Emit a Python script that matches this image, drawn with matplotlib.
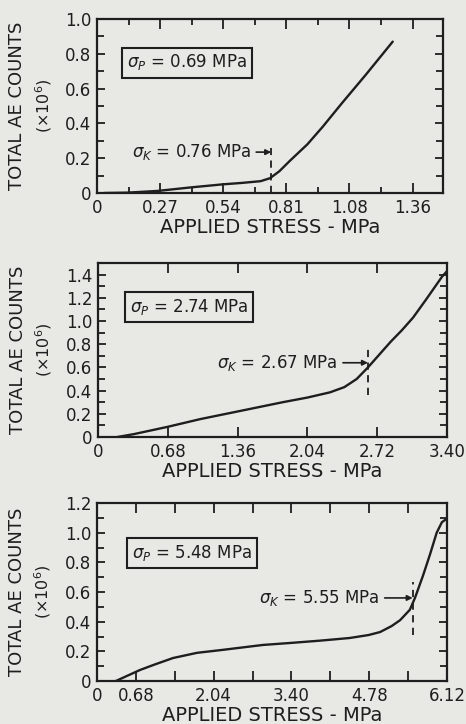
import numpy as np
import matplotlib
matplotlib.use("Agg")
import matplotlib.pyplot as plt
from matplotlib.ticker import FixedLocator, MultipleLocator

# panel 1 (sigma_p = 0.69 MPa)
x1 = [0.03, 0.13, 0.26, 0.40, 0.54, 0.62, 0.70, 0.74, 0.78, 0.825, 0.90, 0.965, 1.05, 1.15, 1.265]
y1 = [0.0, 0.002, 0.012, 0.032, 0.050, 0.058, 0.068, 0.085, 0.125, 0.185, 0.28, 0.38, 0.52, 0.68, 0.87]
# panel 2 (sigma_p = 2.74 MPa)
x2 = [0.19, 0.35, 0.68, 1.00, 1.36, 1.80, 2.04, 2.26, 2.40, 2.52, 2.63, 2.75, 2.85, 2.96, 3.07, 3.20, 3.35, 3.40]
y2 = [0.0, 0.025, 0.088, 0.155, 0.22, 0.30, 0.34, 0.385, 0.43, 0.50, 0.60, 0.72, 0.82, 0.92, 1.03, 1.19, 1.38, 1.43]
# panel 3 (sigma_p = 5.48 MPa)
x3 = [0.33, 0.50, 0.75, 1.00, 1.33, 1.75, 2.20, 2.90, 3.40, 3.90, 4.42, 4.75, 4.95, 5.15,
      5.30, 5.47, 5.56, 5.70, 5.82, 5.94, 6.03, 6.10]
y3 = [0.0, 0.03, 0.074, 0.11, 0.155, 0.19, 0.21, 0.243, 0.257, 0.272, 0.29, 0.31, 0.33, 0.37,
      0.41, 0.48, 0.56, 0.71, 0.85, 1.00, 1.07, 1.09]

xtick1 = [0, 0.27, 0.54, 0.81, 1.08, 1.35]
xlab1 = ["0", "0.27", "0.54", "0.81", "1.08", "1.36"]
xtick2 = [0, 0.68, 1.36, 2.04, 2.72, 3.40]
xlab2 = ["0", "0.68", "1.36", "2.04", "2.72", "3.40"]
xtick3 = [0, 0.68, 1.36, 2.04, 2.72, 3.40, 4.08, 4.76, 5.44, 6.12]
xlab3 = ["0", "0.68", "", "2.04", "", "3.40", "", "4.78", "", "6.12"]

ytick1 = [0, 0.2, 0.4, 0.6, 0.8, 1.0]
ylab1 = ["0", "0.2", "0.4", "0.6", "0.8", "1.0"]
ytick2 = [0, 0.2, 0.4, 0.6, 0.8, 1.0, 1.2, 1.4]
ylab2 = ["0", "0.2", "0.4", "0.6", "0.8", "1.0", "1.2", "1.4"]
ytick3 = [0, 0.2, 0.4, 0.6, 0.8, 1.0, 1.2]
ylab3 = ["0", "0.2", "0.4", "0.6", "0.8", "1.0", "1.2"]

bg = "#e8e8e4"
ink = "#1e1e1e"
plt.rcParams['font.family'] = ['DejaVu Sans']
plt.rcParams['text.color'] = ink

fig = plt.figure(figsize=(4.66, 7.24), dpi=100, facecolor=bg)
W, H = 466, 724

def mkax(l, r, t, b):
    return fig.add_axes([l / W, 1 - b / H, (r - l) / W, (b - t) / H], facecolor=bg)

panels = [
    dict(box=(97, 443, 19, 193), x=x1, y=y1, xlim=1.48, ylim=1.0,
         xt=xtick1, xl=xlab1, xminor=0.135, yt=ytick1, yl=ylab1,
         sp="0.69", sk="0.76", skx=0.745, dash=(0, 0.26), arrow_y=0.235, alen=15,
         boxpos=(0.13, 0.75)),
    dict(box=(98, 447, 263, 437), x=x2, y=y2, xlim=3.40, ylim=1.5,
         xt=xtick2, xl=xlab2, xminor=None, yt=ytick2, yl=ylab2,
         sp="2.74", sk="2.67", skx=2.63, dash=(0.36, 0.78), arrow_y=0.64, alen=25,
         boxpos=(0.31, 1.12)),
    dict(box=(97, 447, 503, 681), x=x3, y=y3, xlim=6.12, ylim=1.2,
         xt=xtick3, xl=xlab3, xminor=None, yt=ytick3, yl=ylab3,
         sp="5.48", sk="5.55", skx=5.52, dash=(0.31, 0.67), arrow_y=0.56, alen=28,
         boxpos=(0.61, 0.86)),
]

for p in panels:
    ax = mkax(*p["box"])
    ax.plot(p["x"], p["y"], color=ink, lw=1.7, solid_capstyle='round',
            solid_joinstyle='round')
    ax.set_xlim(0, p["xlim"])
    ax.set_ylim(0, p["ylim"])
    ax.xaxis.set_major_locator(FixedLocator(p["xt"]))
    ax.set_xticklabels(p["xl"])
    if p["xminor"]:
        ax.xaxis.set_minor_locator(MultipleLocator(p["xminor"]))
    ax.yaxis.set_major_locator(FixedLocator(p["yt"]))
    ax.set_yticklabels(p["yl"])
    ax.yaxis.set_minor_locator(MultipleLocator(0.1))
    ax.tick_params(which='both', direction='in', top=True, right=True,
                   color=ink, width=1.3, labelsize=12, labelcolor=ink)
    ax.tick_params(axis='x', which='major', length=7.5, pad=4)
    ax.tick_params(axis='x', which='minor', length=4.5)
    ax.tick_params(axis='y', which='major', length=6, pad=4)
    ax.tick_params(axis='y', which='minor', length=5)
    for s in ax.spines.values():
        s.set_linewidth(1.6)
        s.set_color(ink)
    ax.set_xlabel("APPLIED STRESS - MPa", fontsize=14, labelpad=1, color=ink)
    ax.set_ylabel("TOTAL AE COUNTS", fontsize=13, labelpad=28, color=ink)
    ax.text(-0.155, 0.5, "($\\times$10$^6$)", transform=ax.transAxes, rotation=90,
            ha='center', va='center', fontsize=11.5, color=ink)

    ax.vlines(p["skx"], p["dash"][0], p["dash"][1], colors=ink,
              linestyles=(0, (4, 3)), lw=1.3)
    ax.annotate("$\\sigma_K$ = " + p["sk"] + " MPa", xy=(p["skx"], p["arrow_y"]),
                xycoords='data', xytext=(-(p["alen"] + 5), 0),
                textcoords='offset pixels', ha='right', va='center',
                fontsize=12, color=ink)
    ax.annotate("", xy=(p["skx"], p["arrow_y"]), xycoords='data',
                xytext=(-p["alen"], 0), textcoords='offset pixels',
                arrowprops=dict(arrowstyle='-|>', color=ink, lw=1.2,
                                mutation_scale=8, shrinkA=0, shrinkB=0))
    ax.text(p["boxpos"][0], p["boxpos"][1], "$\\sigma_P$ = " + p["sp"] + " MPa",
            ha='left', va='center', fontsize=12, color=ink,
            bbox=dict(boxstyle='square,pad=0.3', fc=bg, ec=ink, lw=1.5))

fig.savefig("out.png", dpi=100, facecolor=bg)
